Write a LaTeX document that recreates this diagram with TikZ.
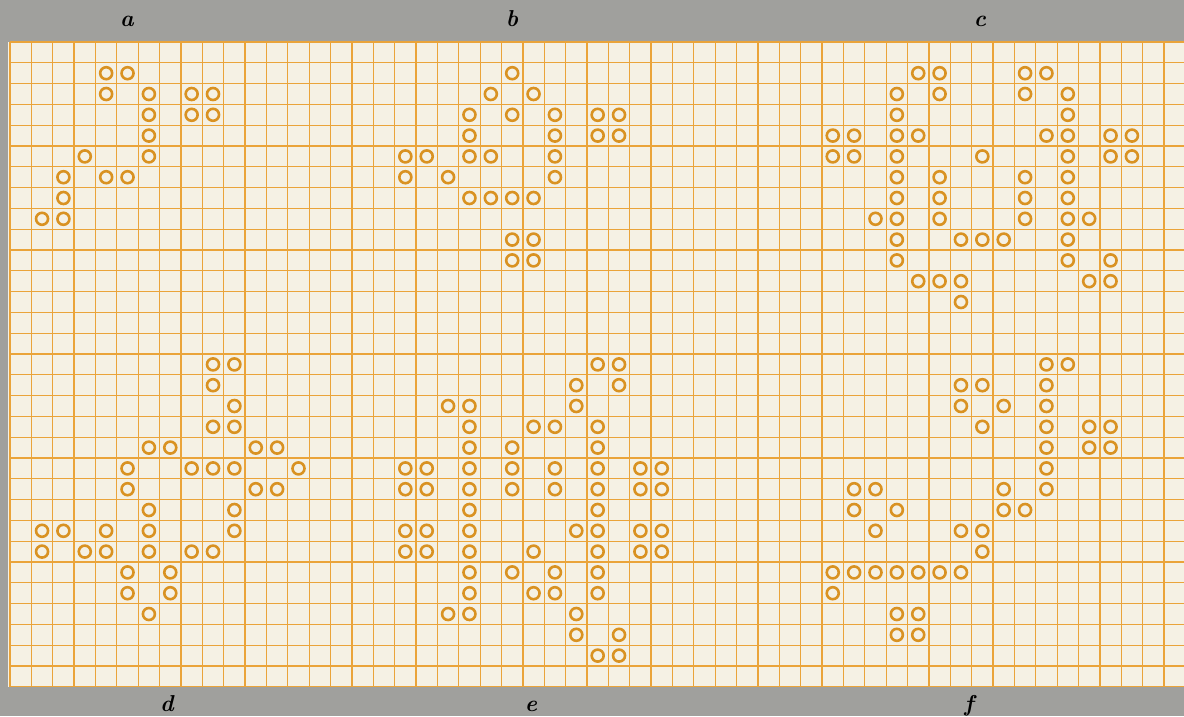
\documentclass[tikz,border=0pt]{standalone}
\usepackage{tikz}
\definecolor{paper}{RGB}{245,241,228}
\definecolor{gridcol}{RGB}{234,164,58}
\definecolor{ringcol}{RGB}{217,146,34}
\definecolor{backgr}{RGB}{160,160,157}

\begin{document}
\begin{tikzpicture}[x=1pt,y=-1pt,
  ring/.style={circle,draw=ringcol,line width=2.6pt,minimum size=12pt,inner sep=0pt},
  gridline/.style={draw=gridcol,line width=1.25pt},
  tag/.style={anchor=base,font=\fontsize{23}{26}\selectfont\bfseries\itshape}]
\fill[backgr] (0,0) rectangle (1184,716);
\useasboundingbox (0,0) rectangle (1184,716);
\fill[paper] (8,42) rectangle (1184,686.8);
\foreach \k in {0,...,54}
  \draw[gridline] ({10+\k*21.37},42) -- ({10+\k*21.37},686.8);
\foreach \k in {0,...,31}
  \draw[gridline] (10,{42+\k*20.8}) -- (1184,{42+\k*20.8});
% a
\foreach \r/\cols in {1/{4,5},2/{4,6,8,9},3/{6,8,9},4/{6},5/{3,6},6/{2,4,5},7/{2},8/{1,2}}
  \foreach \c in \cols
    \node[ring] (a-\c-\r) at ({10+(\c+0.5)*21.37},{42+(\r+0.5)*20.8}) {};
% b
\foreach \r/\cols in {1/{23},2/{22,24},3/{21,23,25,27,28},4/{21,25,27,28},5/{18,19,21,22,25},
    6/{18,20,25},7/{21,22,23,24},9/{23,24},10/{23,24}}
  \foreach \c in \cols
    \node[ring] (b-\c-\r) at ({10+(\c+0.5)*21.37},{42+(\r+0.5)*20.8}) {};
% c
\foreach \r/\cols in {1/{42,43,47,48},2/{41,43,47,49},3/{41,49},4/{38,39,41,42,48,49,51,52},
    5/{38,39,41,45,49,51,52},6/{41,43,47,49},7/{41,43,47,49},8/{40,41,43,47,49,50},
    9/{41,44,45,46,49},10/{41,49,51},11/{42,43,44,50,51},12/{44}}
  \foreach \c in \cols
    \node[ring] (c-\c-\r) at ({10+(\c+0.5)*21.37},{42+(\r+0.5)*20.8}) {};
% d
\foreach \r/\cols in {15/{9,10},16/{9},17/{10},18/{9,10},19/{6,7,11,12},20/{5,8,9,10,13},
    21/{5,11,12},22/{6,10},23/{1,2,4,6,10},24/{1,3,4,6,8,9},25/{5,7},26/{5,7},27/{6}}
  \foreach \c in \cols
    \node[ring] (d-\c-\r) at ({10+(\c+0.5)*21.37},{42+(\r+0.5)*20.8}) {};
% e
\foreach \r/\cols in {15/{27,28},16/{26,28},17/{20,21,26},18/{21,24,25,27},19/{21,23,27},
    20/{18,19,21,23,25,27,29,30},21/{18,19,21,23,25,27,29,30},22/{21,27},
    23/{18,19,21,26,27,29,30},24/{18,19,21,24,27,29,30},25/{21,23,25,27},
    26/{21,24,25,27},27/{20,21,26},28/{26,28},29/{27,28}}
  \foreach \c in \cols
    \node[ring] (e-\c-\r) at ({10+(\c+0.5)*21.37},{42+(\r+0.5)*20.8}) {};
% f
\foreach \r/\cols in {15/{48,49},16/{44,45,48},17/{44,46,48},18/{45,48,50,51},19/{48,50,51},
    20/{48},21/{39,40,46,48},22/{39,41,46,47},23/{40,44,45},24/{45},
    25/{38,39,40,41,42,43,44},26/{38},27/{41,42},28/{41,42}}
  \foreach \c in \cols
    \node[ring] (f-\c-\r) at ({10+(\c+0.5)*21.37},{42+(\r+0.5)*20.8}) {};
\node[tag] (la) at (127,26) {a};
\node[tag] (lb) at (512,26) {b};
\node[tag] (lc) at (980,26) {c};
\node[tag] (ld) at (167,711) {d};
\node[tag] (le) at (531,711) {e};
\node[tag] (lf) at (969,711) {f};
\end{tikzpicture}
\end{document}
